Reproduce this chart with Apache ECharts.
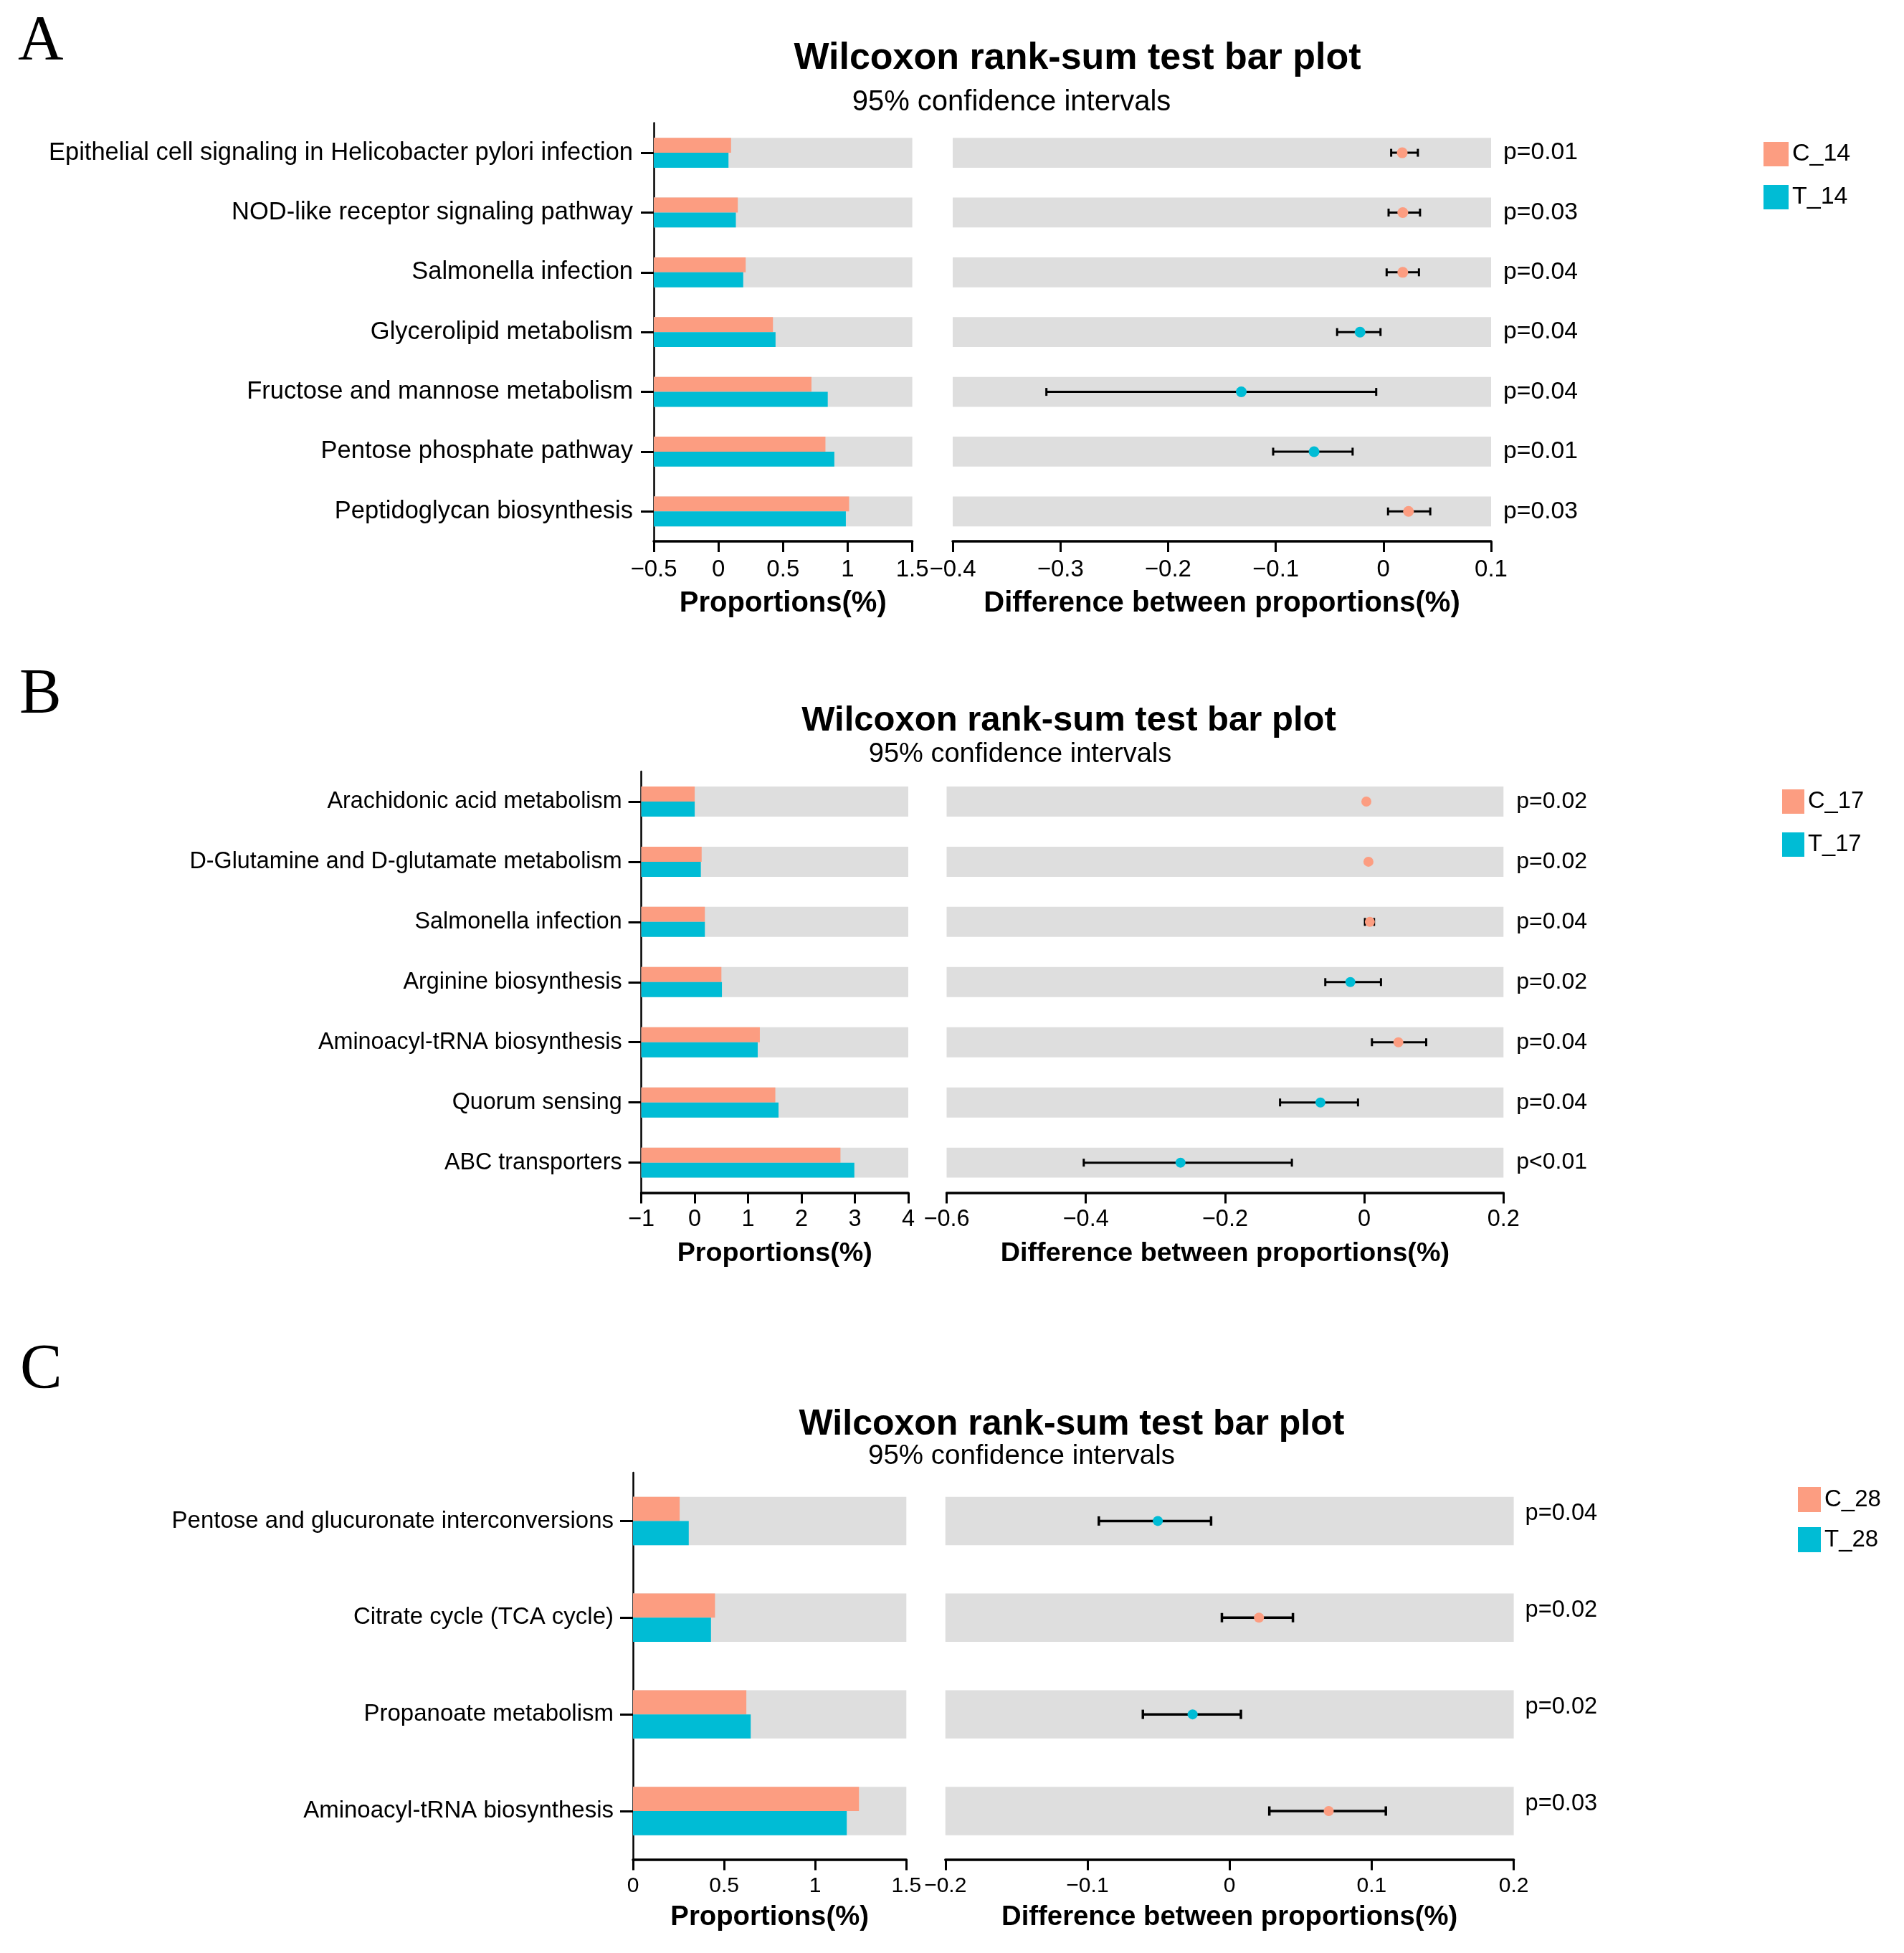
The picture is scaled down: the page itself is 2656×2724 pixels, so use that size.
<!DOCTYPE html>
<html><head><meta charset="utf-8">
<script src="https://cdn.jsdelivr.net/npm/echarts@6/dist/echarts.min.js"></script>
<style>html,body{margin:0;padding:0;background:#fff}#c{width:2656px;height:2724px}</style>
</head><body><div id="c"></div>
<script>
// ---------- DATA ----------
const categoriesA = ['Epithelial cell signaling in Helicobacter pylori infection','NOD-like receptor signaling pathway','Salmonella infection','Glycerolipid metabolism','Fructose and mannose metabolism','Pentose phosphate pathway','Peptidoglycan biosynthesis'];
const groupsA = ['C_14','T_14'];
const propC_A = [0.098,0.15,0.211,0.422,0.72,0.828,1.011];
const propT_A = [0.078,0.135,0.192,0.442,0.846,0.897,0.986];
const diffA = [0.0175,0.018,0.018,-0.0217,-0.132,-0.0644,0.0233];
const lowA  = [0.0072,0.0048,0.003,-0.043,-0.313,-0.1024,0.0043];
const highA = [0.032,0.034,0.033,-0.0027,-0.0067,-0.0286,0.0435];
const pA = ['p=0.01','p=0.03','p=0.04','p=0.04','p=0.04','p=0.01','p=0.03'];
const propAxisA = [-0.5,1.5,0.5];
const diffAxisA = [-0.4,0.1,0.1];

const categoriesB = ['Arachidonic acid metabolism','D-Glutamine and D-glutamate metabolism','Salmonella infection','Arginine biosynthesis','Aminoacyl-tRNA biosynthesis','Quorum sensing','ABC transporters'];
const groupsB = ['C_17','T_17'];
const propC_B = [0.0,0.13,0.19,0.5,1.22,1.51,2.73];
const propT_B = [0.0,0.115,0.19,0.51,1.18,1.57,2.99];
const diffB = [0.003,0.006,0.008,-0.02,0.049,-0.063,-0.264];
const lowB  = [0.002,0.005,0.001,-0.056,0.011,-0.121,-0.403];
const highB = [0.004,0.007,0.014,0.024,0.089,-0.009,-0.104];
const pB = ['p=0.02','p=0.02','p=0.04','p=0.02','p=0.04','p=0.04','p<0.01'];
const propAxisB = [-1,4,1];
const diffAxisB = [-0.6,0.2,0.2];

const categoriesC = ['Pentose and glucuronate interconversions','Citrate cycle (TCA cycle)','Propanoate metabolism','Aminoacyl-tRNA biosynthesis'];
const groupsC = ['C_28','T_28'];
const propC_C = [0.256,0.45,0.622,1.24];
const propT_C = [0.306,0.428,0.646,1.173];
const diffC = [-0.0505,0.0207,-0.026,0.0698];
const lowC  = [-0.092,-0.0054,-0.061,0.028];
const highC = [-0.013,0.0446,0.008,0.110];
const pC = ['p=0.04','p=0.02','p=0.02','p=0.03'];
const propAxisC = [0,1.5,0.5];
const diffAxisC = [-0.2,0.2,0.1];

const titleText = 'Wilcoxon rank-sum test bar plot';
const subText = '95% confidence intervals';
const xNameL = 'Proportions(%)';
const xNameR = 'Difference between proportions(%)';

// ---------- STYLE / LAYOUT ----------
const FONT = '"Liberation Sans", Arial, Helvetica, sans-serif';
const SERIF = '"Liberation Serif", "Times New Roman", serif';
const ORANGE = '#FC9D81', TEAL = '#00BCD5', GREY = '#DEDEDE';

const panels = [
  {letter:'A', cats:categoriesA, groups:groupsA, c:propC_A, t:propT_A, diff:diffA, lo:lowA, hi:highA, p:pA, pa:propAxisA, da:diffAxisA,
   L:{lx0:912,lx1:1272.6,rx0:1329,rx1:2080,y0:171.4,y1:755,
      letterXY:[25,59], title:[1503,81.5,52], sub:[1411,142.5,40],
      catFont:34.5, catMargin:29, tickFont:33, tickMargin:23, nameFont:40, nameGap:67,
      pFont:33.7, pGap:17, pDy:0, r:7.5, cap:11, lw:3,
      legend:[2460,198,35,34,26,34]}},
  {letter:'B', cats:categoriesB, groups:groupsB, c:propC_B, t:propT_B, diff:diffB, lo:lowB, hi:highB, p:pB, pa:propAxisB, da:diffAxisB,
   L:{lx0:894.6,lx1:1267,rx0:1320.5,rx1:2097.3,y0:1076,y1:1663.6,
      letterXY:[27,970], title:[1491,1005.5,49], sub:[1423,1052.5,38],
      catFont:32.3, catMargin:27, tickFont:32.5, tickMargin:21, nameFont:37.7, nameGap:66,
      pFont:32, pGap:18, pDy:0, r:7, cap:11, lw:3,
      legend:[2486,1101,31,34,26,32.7]}},
  {letter:'C', cats:categoriesC, groups:groupsC, c:propC_C, t:propT_C, diff:diffC, lo:lowC, hi:highC, p:pC, pa:propAxisC, da:diffAxisC,
   L:{lx0:883,lx1:1264.3,rx0:1318.75,rx1:2111.6,y0:2054,y1:2593.4,
      letterXY:[28,1912], title:[1495,1987.5,50], sub:[1425,2031.5,38.5],
      catFont:33, catMargin:27, tickFont:30, tickMargin:22, nameFont:38.3, nameGap:62,
      pFont:32.6, pGap:16, pDy:-10, r:7, cap:13, lw:3.5,
      legend:[2508,2074,32,35,21,33]}}
];

function fmt(v){ const s = String(Number(v.toFixed(3))); return s.replace('-', '\u2212'); }

const grid = [], xAxis = [], yAxis = [], series = [], legend = [], graphic = [];

panels.forEach((P, k) => {
  const L = P.L;
  const gl = k*2, gr = k*2+1;
  grid.push({left:L.lx0, top:L.y0, width:L.lx1-L.lx0, height:L.y1-L.y0, outerBoundsMode:'none', containLabel:false});
  grid.push({left:L.rx0, top:L.y0, width:L.rx1-L.rx0, height:L.y1-L.y0, outerBoundsMode:'none', containLabel:false});
  const xCommon = (ax, name) => ({
    type:'value', min:ax[0], max:ax[1], interval:ax[2], splitLine:{show:false},
    axisLine:{show:true, onZero:false, lineStyle:{color:'#000', width:3.5}},
    axisTick:{show:true, length:15, lineStyle:{color:'#000', width:3}},
    axisLabel:{fontSize:L.tickFont, fontFamily:FONT, color:'#000', margin:L.tickMargin, showMinLabel:true, showMaxLabel:true, formatter:fmt, hideOverlap:false},
    name:name, nameLocation:'middle', nameGap:L.nameGap,
    nameTextStyle:{fontSize:L.nameFont, fontWeight:'bold', fontFamily:FONT, color:'#000'}
  });
  xAxis.push(Object.assign({gridIndex:gl}, xCommon(P.pa, xNameL)));
  xAxis.push(Object.assign({gridIndex:gr}, xCommon(P.da, xNameR)));
  yAxis.push({gridIndex:gl, type:'category', data:P.cats, inverse:true, boundaryGap:true,
    axisLine:{show:true, onZero:false, lineStyle:{color:'#000', width:2.5}},
    axisTick:{show:true, alignWithLabel:true, length:18, lineStyle:{color:'#000', width:3}},
    axisLabel:{fontSize:L.catFont, fontFamily:FONT, color:'#000', margin:L.catMargin, interval:0},
    splitLine:{show:false}});
  yAxis.push({gridIndex:gr, type:'category', data:P.cats, inverse:true, boundaryGap:true, show:false});

  const idxData = P.cats.map((c,i)=>[0,i]);
  const bg = (ax) => function(params, api){
    const i = api.value(1);
    const a = api.coord([ax[0], i]), b = api.coord([ax[1], i]);
    const band = api.size([0,1])[1];
    return {type:'rect', shape:{x:a[0], y:a[1]-band*0.25, width:b[0]-a[0], height:band*0.5}, style:{fill:GREY}};
  };
  series.push({type:'custom', name:'bgL'+k, xAxisIndex:gl, yAxisIndex:gl, silent:true, z:1, data:idxData, encode:{x:0,y:1}, renderItem:bg(P.pa)});
  series.push({type:'custom', name:'bgR'+k, xAxisIndex:gr, yAxisIndex:gr, silent:true, z:1, data:idxData, encode:{x:0,y:1}, renderItem:bg(P.da)});

  const barRender = (upper) => function(params, api){
    const v = api.value(0), i = api.value(1);
    const a = api.coord([P.pa[0], i]), b = api.coord([v, i]);
    const band = api.size([0,1])[1];
    const h = band*0.25;
    return {type:'rect', shape:{x:a[0], y: upper ? a[1]-h : a[1], width:Math.max(0,b[0]-a[0]), height:h}, style:{fill: upper ? ORANGE : TEAL}};
  };
  series.push({type:'custom', name:P.groups[0], xAxisIndex:gl, yAxisIndex:gl, z:2, itemStyle:{color:ORANGE},
    data:P.c.map((v,i)=>[v,i]), encode:{x:0,y:1}, renderItem:barRender(true)});
  series.push({type:'custom', name:P.groups[1], xAxisIndex:gl, yAxisIndex:gl, z:2, itemStyle:{color:TEAL},
    data:P.t.map((v,i)=>[v,i]), encode:{x:0,y:1}, renderItem:barRender(false)});

  series.push({type:'custom', name:'diff'+k, xAxisIndex:gr, yAxisIndex:gr, z:3, clip:false,
    data:P.diff.map((v,i)=>[v,i,P.lo[i],P.hi[i]]), encode:{x:0,y:1},
    renderItem:function(params, api){
      const v = api.value(0), i = api.value(1), lo = api.value(2), hi = api.value(3);
      const c = api.coord([v,i]), a = api.coord([lo,i]), b = api.coord([hi,i]);
      const right = api.coord([P.da[1], i]);
      const col = v >= 0 ? ORANGE : TEAL;
      const ls = {stroke:'#000', lineWidth:L.lw};
      return {type:'group', children:[
        {type:'line', shape:{x1:a[0],y1:a[1],x2:b[0],y2:b[1]}, style:ls},
        {type:'line', shape:{x1:a[0],y1:a[1]-L.cap/2,x2:a[0],y2:a[1]+L.cap/2}, style:ls},
        {type:'line', shape:{x1:b[0],y1:b[1]-L.cap/2,x2:b[0],y2:b[1]+L.cap/2}, style:ls},
        {type:'circle', shape:{cx:c[0], cy:c[1], r:L.r}, style:{fill:col}},
        {type:'text', x:right[0]+L.pGap, y:c[1]+L.pDy, style:{text:P.p[params.dataIndex], fill:'#000',
          fontSize:L.pFont, fontFamily:FONT, textAlign:'left', textVerticalAlign:'middle', align:'left', verticalAlign:'middle'}}
      ]};
    }});

  const lg = L.legend;
  legend.push({data:P.groups, orient:'vertical', left:lg[0], top:lg[1], itemWidth:lg[2], itemHeight:lg[3], itemGap:lg[4],
    icon:'rect', padding:0, selectedMode:false, textStyle:{fontSize:lg[5], fontFamily:FONT, color:'#000'}});

  graphic.push({type:'text', x:L.letterXY[0], y:L.letterXY[1], style:{text:P.letter, font:'88px '+SERIF, fill:'#000', textAlign:'left', textVerticalAlign:'middle'}});
  graphic.push({type:'text', x:L.title[0], y:L.title[1], style:{text:titleText, font:'bold '+L.title[2]+'px '+FONT, fill:'#000', textAlign:'center', textVerticalAlign:'middle'}});
  graphic.push({type:'text', x:L.sub[0], y:L.sub[1], style:{text:subText, font:L.sub[2]+'px '+FONT, fill:'#000', textAlign:'center', textVerticalAlign:'middle'}});
});

const chart = echarts.init(document.getElementById('c'), null, {renderer:'canvas'});
chart.setOption({backgroundColor:'#fff', animation:false, grid, xAxis, yAxis, series, legend, graphic});
</script></body></html>
